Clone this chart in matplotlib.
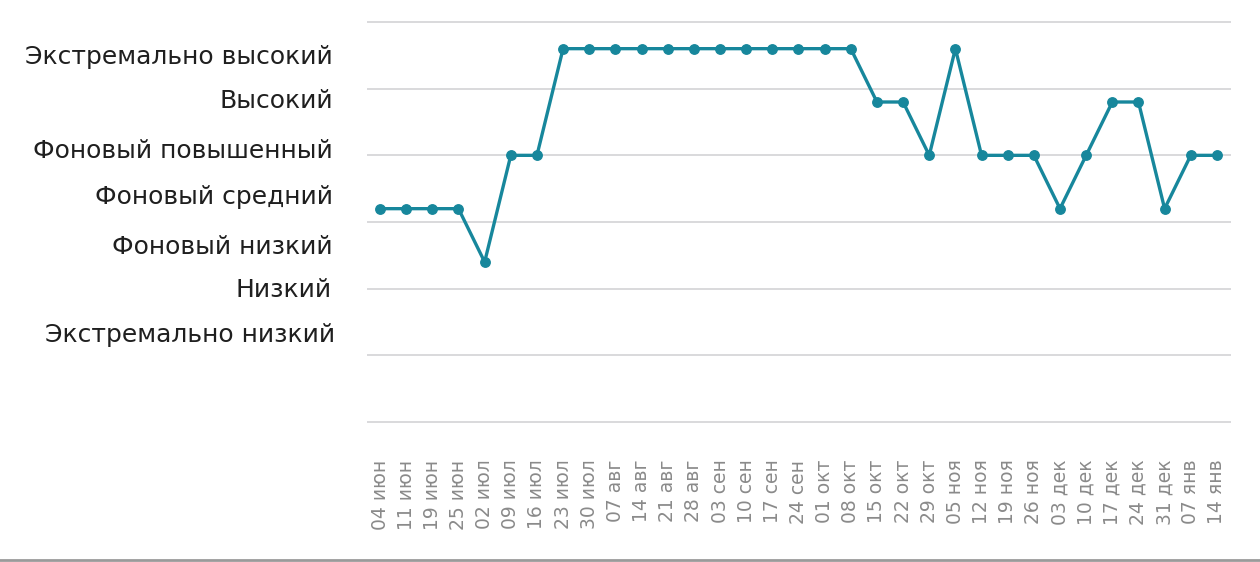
import matplotlib
matplotlib.use("Agg")
import matplotlib.pyplot as plt
from matplotlib.lines import Line2D

dates = ["04 июн", "11 июн", "19 июн", "25 июн", "02 июл", "09 июл", "16 июл",
         "23 июл", "30 июл", "07 авг", "14 авг", "21 авг", "28 авг", "03 сен",
         "10 сен", "17 сен", "24 сен", "01 окт", "08 окт", "15 окт", "22 окт",
         "29 окт", "05 ноя", "12 ноя", "19 ноя", "26 ноя", "03 дек", "10 дек",
         "17 дек", "24 дек", "31 дек", "07 янв", "14 янв"]
# levels: 1 = Экстремально низкий ... 7 = Экстремально высокий
levels = [4, 4, 4, 4, 3, 5, 5,
          7, 7, 7, 7, 7, 7, 7,
          7, 7, 7, 7, 7, 6, 6,
          5, 7, 5, 5, 5, 4, 5,
          6, 6, 4, 5, 5]
level_names = ["Экстремально высокий", "Высокий", "Фоновый повышенный",
               "Фоновый средний", "Фоновый низкий", "Низкий", "Экстремально низкий"]
grid_values = [0, 1.25, 2.5, 3.75, 5, 6.25, 7.5]

W, H = 1260, 562
fig = plt.figure(figsize=(W / 100, H / 100), dpi=100)
fig.patch.set_facecolor("white")

ax = fig.add_axes([368 / W, 1 - 422 / H, (1230 - 368) / W, (422 - 22) / H])
x = list(range(len(dates)))
ax.plot(x, levels, color="#17879c", lw=2.4, marker="o", ms=6.8,
        markerfacecolor="#17879c", markeredgecolor="#17879c", zorder=3,
        solid_joinstyle="miter")
ax.set_xlim(-0.46, 32.5)
ax.set_ylim(0, 7.5)
ax.set_yticks(grid_values)
ax.set_yticklabels([])
ax.tick_params(axis="y", length=0)
ax.grid(axis="y", color="#d9d9dc", lw=1.4)
for gl in ax.yaxis.get_gridlines():
    gl.set_clip_on(False)
ax.set_axisbelow(True)
for s in ax.spines.values():
    s.set_visible(False)
ax.set_xticks(x)
ax.set_xticklabels(dates, rotation=90, fontsize=13.5, color="#8a8a8a",
                   va="top", ha="center", family="DejaVu Sans")
ax.tick_params(axis="x", length=0, pad=27)

# left level captions (drawn as a separate label column)
label_y = [57, 101, 151, 197, 247, 290, 335]
label_x = [333, 333, 333, 333, 333, 332, 335]
for name, ly, lx in zip(level_names, label_y, label_x):
    fig.text(lx / W, 1 - ly / H, name, ha="right", va="center",
             fontsize=18, color="#1f1f1f", family="DejaVu Sans")

# bottom edge line
fig.add_artist(Line2D([0, 1], [1 - 560 / H, 1 - 560 / H], color="#9a9a9a",
                      lw=2, transform=fig.transFigure))

fig.savefig("out.png", dpi=100, facecolor="white")
